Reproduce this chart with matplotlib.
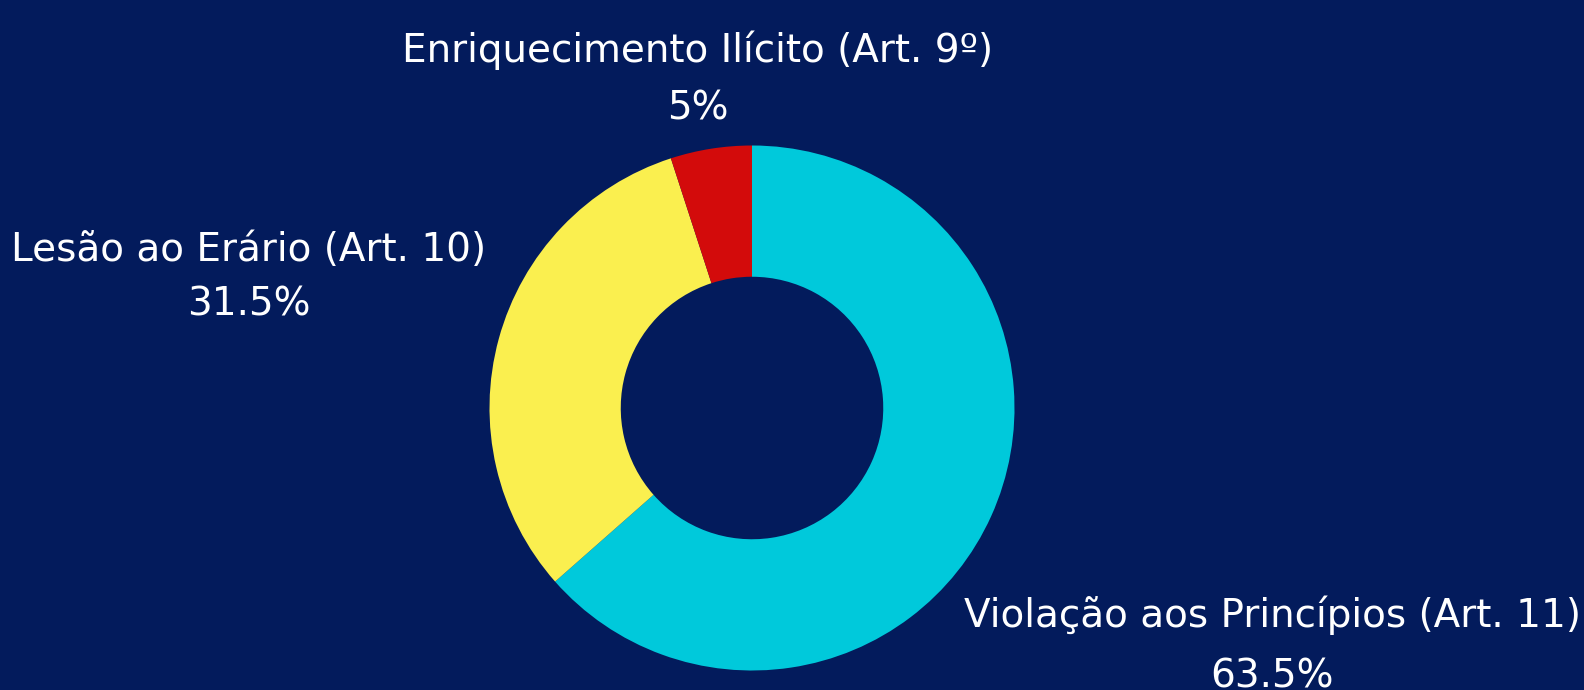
import matplotlib
matplotlib.use("Agg")
import matplotlib.pyplot as plt

# data
categories = ["Violação aos Princípios (Art. 11)", "Lesão ao Erário (Art. 10)",
              "Enriquecimento Ilícito (Art. 9º)"]
shares = [63.5, 31.5, 5.0]
share_labels = ["63.5%", "31.5%", "5%"]
colors = ["#00C9DB", "#FAEF4F", "#D30B0B"]

bg = "#031B5C"
W, H = 1584, 690

plt.rcParams['font.family'] = ['DejaVu Sans']

fig = plt.figure(figsize=(W / 100, H / 100), dpi=100, facecolor=bg)
ax = fig.add_axes([0, 0, 1, 1])
ax.set_facecolor(bg)

# donut, centre/radius in pixel units
cx, cy, r = 752, H - 408, 262.5
ax.pie(shares, colors=colors, startangle=90, counterclock=False,
       center=(cx, cy), radius=r, frame=True,
       wedgeprops=dict(width=r / 2, linewidth=0))
ax.set_xlim(0, W)
ax.set_ylim(0, H)
ax.set_aspect('equal')
ax.axis('off')

# label anchors: (x centre, baseline of first line, baseline of second line), px from top-left
label_pos = [(1272, 627, 687), (249, 261, 315), (698, 62, 119)]
for name, txt, (x, y1, y2) in zip(categories, share_labels, label_pos):
    ax.text(x, H - y1, name, ha='center', va='baseline', color='white', fontsize=28)
    ax.text(x, H - y2, txt, ha='center', va='baseline', color='white', fontsize=28)

fig.savefig("out.png", dpi=100, facecolor=bg)
